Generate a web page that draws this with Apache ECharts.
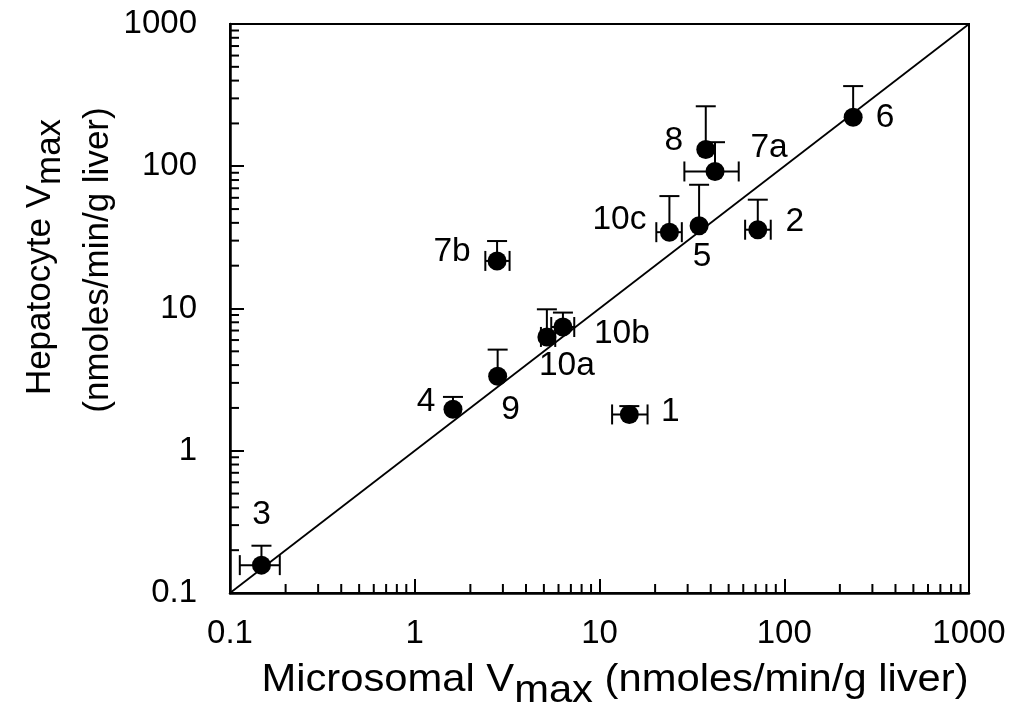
<!DOCTYPE html>
<html>
<head>
<meta charset="utf-8">
<script src="https://cdn.jsdelivr.net/npm/echarts@6/dist/echarts.min.js"></script>
<style>
html,body{margin:0;padding:0;background:#fff;}
#chart{width:1014px;height:711px;}
</style>
</head>
<body>
<div id="chart"></div>
<script>
// ---- data ----
const compounds   = ['1','2','3','4','5','6','7a','7b','8','9','10a','10b','10c'];
const microVmax   = [14.5, 71.9, 0.148, 1.61, 34.6, 236, 42.2, 2.79, 37.6, 2.81, 5.19, 6.34, 23.9];
const hepVmax     = [1.80, 35.8, 0.157, 1.96, 38.2, 221, 91.9, 21.6, 131, 3.34, 6.31, 7.41, 34.4];
const hepUpper    = [2.06, 58.2, 0.215, 2.39, 74.1, 366, 147.6, 29.8, 264, 5.14, 9.87, 9.36, 61.7];
const microLow    = [11.7, 61.4, 0.113, null, null, null, 28.8, 2.41, null, null, 4.82, 5.48, 20.3];
const microHigh   = [18.2, 84.5, 0.186, null, null, null, 56.7, 3.26, null, null, 5.76, 7.30, 27.9];
const identityX   = [0.1, 1000];
const identityY   = [0.1, 1000];
const tickLabels  = ['0.1','1','10','100','1000'];
const decades     = [0.1, 1, 10, 100];
const minorMult   = [2,3,4,5,6,7,8,9];

// ---- layout / style ----
const FONT = '"Liberation Sans", Arial, Helvetica, sans-serif';
const labelOffsets = {
  '1':[41,-3], '2':[37,-8], '3':[0,-50], '4':[-27,-7], '5':[3,31], '6':[32,1],
  '7a':[54,-24], '7b':[-45,-9], '8':[-32,-9], '9':[13,34], '10a':[20,29], '10b':[59,7], '10c':[-50,-12]
};

const minorVals = [];
decades.forEach(d => minorMult.forEach(m => minorVals.push(d * m)));

function fmt(v){
  const idx = Math.round(Math.log10(v)) + 1;
  return tickLabels[idx] !== undefined ? tickLabels[idx] : '';
}

const chart = echarts.init(document.getElementById('chart'), null, {renderer:'canvas'});

const option = {
  animation: false,
  backgroundColor: '#fff',
  grid: {left: 230, top: 24, right: 45, bottom: 118, show: true, borderColor: '#000', borderWidth: 2},
  xAxis: {
    type: 'log', logBase: 10, min: 0.1, max: 1000,
    axisLine: {onZero:false, lineStyle: {color: '#000', width: 2.5}},
    axisTick: {inside: true, length: 14, lineStyle: {color: '#000', width: 2}},
    axisLabel: {margin: 24, fontSize: 33, color: '#000', fontFamily: FONT, formatter: fmt},
    splitLine: {show: false}
  },
  yAxis: {
    type: 'log', logBase: 10, min: 0.1, max: 1000,
    axisLine: {onZero:false, lineStyle: {color: '#000', width: 2.5}},
    axisTick: {inside: true, length: 14, lineStyle: {color: '#000', width: 2}},
    axisLabel: {margin: 33, fontSize: 33, color: '#000', fontFamily: FONT, formatter: fmt},
    splitLine: {show: false}
  },
  graphic: [
    {
      type: 'text', x: 615, y: 681, scaleX: 1.07,
      style: {
        text: '{a|Microsomal V}{s|max}{a| (nmoles/min/g liver)}',
        align: 'center', verticalAlign: 'middle',
        rich: {
          a: {fontSize: 39, fontFamily: FONT, fill: '#000', lineHeight: 40, verticalAlign: 'top'},
          s: {fontSize: 39, fontFamily: FONT, fill: '#000', lineHeight: 40, verticalAlign: 'top', padding: [11,0,0,0]}
        }
      }
    },
    {
      type: 'text', x: 41, y: 257, rotation: Math.PI / 2,
      style: {
        text: '{a|Hepatocyte V}{s|max}',
        align: 'center', verticalAlign: 'middle',
        rich: {
          a: {fontSize: 35, fontFamily: FONT, fill: '#000', lineHeight: 37, verticalAlign: 'top'},
          s: {fontSize: 35, fontFamily: FONT, fill: '#000', lineHeight: 37, verticalAlign: 'top', padding: [10,0,0,0]}
        }
      }
    },
    {
      type: 'text', x: 98, y: 260, rotation: Math.PI / 2,
      style: {
        text: '(nmoles/min/g liver)',
        align: 'center', verticalAlign: 'middle',
        fontSize: 35, fontFamily: FONT, fill: '#000'
      }
    }
  ],
  series: [
    {
      type: 'line', data: identityX.map((x, i) => [x, identityY[i]]),
      showSymbol: false, symbol: 'none', lineStyle: {color: '#000', width: 1.8}, z: 1, silent: true
    },
    {
      type: 'custom', data: minorVals.map(v => [v]), clip: false, z: 3, silent: true,
      renderItem: function(params, api){
        const p = api.coord([api.value(0), 0.1]);
        return {type: 'line', shape: {x1: p[0], y1: p[1], x2: p[0], y2: p[1] - 9}, style: {stroke: '#000', lineWidth: 2}};
      }
    },
    {
      type: 'custom', data: minorVals.map(v => [v]), clip: false, z: 3, silent: true,
      encode: {y: 0},
      renderItem: function(params, api){
        const p = api.coord([0.1, minorVals[params.dataIndex]]);
        return {type: 'line', shape: {x1: p[0], y1: p[1], x2: p[0] + 9, y2: p[1]}, style: {stroke: '#000', lineWidth: 2}};
      }
    },
    {
      type: 'custom', z: 2, silent: true,
      data: microVmax.map((x, i) => [x, hepVmax[i]]),
      renderItem: function(params, api){
        const i = params.dataIndex;
        const c = api.coord([microVmax[i], hepVmax[i]]);
        const t = api.coord([microVmax[i], hepUpper[i]]);
        const st = {stroke: '#000', lineWidth: 2};
        const ch = [
          {type: 'line', shape: {x1: c[0], y1: c[1], x2: t[0], y2: t[1]}, style: st},
          {type: 'line', shape: {x1: t[0] - 10, y1: t[1], x2: t[0] + 10, y2: t[1]}, style: st}
        ];
        if (microLow[i] != null) {
          const lo = api.coord([microLow[i], hepVmax[i]]);
          const hi = api.coord([microHigh[i], hepVmax[i]]);
          ch.push({type: 'line', shape: {x1: lo[0], y1: lo[1], x2: hi[0], y2: hi[1]}, style: st});
          ch.push({type: 'line', shape: {x1: lo[0], y1: lo[1] - 10, x2: lo[0], y2: lo[1] + 10}, style: st});
          ch.push({type: 'line', shape: {x1: hi[0], y1: hi[1] - 10, x2: hi[0], y2: hi[1] + 10}, style: st});
        }
        return {type: 'group', children: ch};
      }
    },
    {
      type: 'scatter', z: 5, symbol: 'circle', symbolSize: 19,
      itemStyle: {color: '#000', opacity: 1},
      emphasis: {disabled: true},
      data: microVmax.map((x, i) => ({
        value: [x, hepVmax[i]],
        label: {offset: labelOffsets[compounds[i]]}
      })),
      label: {
        show: true, position: 'inside', color: '#000', opacity: 1, fontSize: 33.5, fontFamily: FONT,
        textBorderWidth: 0,
        formatter: p => compounds[p.dataIndex]
      }
    }
  ]
};
chart.setOption(option);
</script>
</body>
</html>
